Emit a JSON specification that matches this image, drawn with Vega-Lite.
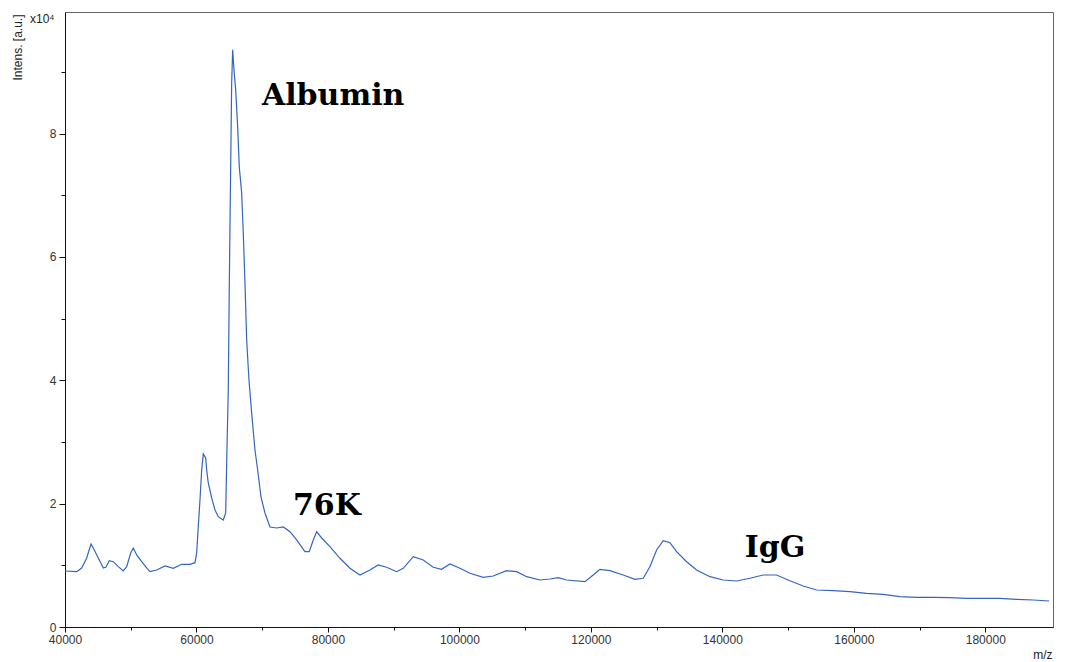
{
  "$schema": "https://vega.github.io/schema/vega-lite/v6.json",
  "width": 988,
  "height": 615,
  "autosize": {"type": "none"},
  "padding": {"left": 65, "top": 12, "right": 12, "bottom": 35},
  "background": "white",
  "title": {
    "text": "x10⁴",
    "anchor": "start",
    "frame": "group",
    "orient": "top",
    "offset": 0,
    "dx": -35,
    "dy": 14,
    "font": "Liberation Sans",
    "fontSize": 12,
    "fontWeight": "normal",
    "color": "#222"
  },
  "config": {
    "view": {"stroke": "#666", "strokeWidth": 1},
    "axis": {
      "domainColor": "#111",
      "tickColor": "#111",
      "labelFont": "Liberation Sans",
      "labelFontSize": 12,
      "labelColor": "#333",
      "titleFont": "Liberation Sans",
      "titleFontSize": 12,
      "titleFontWeight": "normal",
      "titleColor": "#222",
      "grid": false
    }
  },
  "datasets": {
    "spectrum": [
      {"mz": 40000, "intensity": 9080},
      {"mz": 41780, "intensity": 8967},
      {"mz": 42540, "intensity": 9567},
      {"mz": 43300, "intensity": 11188},
      {"mz": 43955, "intensity": 13458},
      {"mz": 44305, "intensity": 12810},
      {"mz": 45065, "intensity": 11188},
      {"mz": 45825, "intensity": 9567},
      {"mz": 46236, "intensity": 9729},
      {"mz": 46738, "intensity": 10750},
      {"mz": 47346, "intensity": 10588},
      {"mz": 48107, "intensity": 9778},
      {"mz": 48867, "intensity": 9080},
      {"mz": 49385, "intensity": 9778},
      {"mz": 49993, "intensity": 12000},
      {"mz": 50388, "intensity": 12810},
      {"mz": 50905, "intensity": 11675},
      {"mz": 51666, "intensity": 10588},
      {"mz": 52427, "intensity": 9567},
      {"mz": 52929, "intensity": 8967},
      {"mz": 53948, "intensity": 9243},
      {"mz": 55210, "intensity": 9891},
      {"mz": 56472, "intensity": 9518},
      {"mz": 57750, "intensity": 10167},
      {"mz": 59013, "intensity": 10167},
      {"mz": 59773, "intensity": 10426},
      {"mz": 60031, "intensity": 12000},
      {"mz": 60275, "intensity": 16264},
      {"mz": 60534, "intensity": 20593},
      {"mz": 60792, "intensity": 25458},
      {"mz": 61035, "intensity": 28052},
      {"mz": 61400, "intensity": 27403},
      {"mz": 61553, "intensity": 25458},
      {"mz": 61796, "intensity": 23350},
      {"mz": 62313, "intensity": 20917},
      {"mz": 62815, "intensity": 18972},
      {"mz": 63317, "intensity": 17885},
      {"mz": 64077, "intensity": 17350},
      {"mz": 64443, "intensity": 18485},
      {"mz": 64595, "intensity": 26593},
      {"mz": 64838, "intensity": 38430},
      {"mz": 64990, "intensity": 55131},
      {"mz": 65203, "intensity": 74589},
      {"mz": 65355, "intensity": 88210},
      {"mz": 65507, "intensity": 93561},
      {"mz": 65705, "intensity": 90318},
      {"mz": 65964, "intensity": 87075},
      {"mz": 66268, "intensity": 81075},
      {"mz": 66511, "intensity": 74589},
      {"mz": 66876, "intensity": 70373},
      {"mz": 67120, "intensity": 63887},
      {"mz": 67378, "intensity": 55780},
      {"mz": 67637, "intensity": 46537},
      {"mz": 67986, "intensity": 40051},
      {"mz": 68397, "intensity": 34700},
      {"mz": 68899, "intensity": 28701},
      {"mz": 69310, "intensity": 25458},
      {"mz": 69812, "intensity": 21080},
      {"mz": 70420, "intensity": 18485},
      {"mz": 71181, "intensity": 16215},
      {"mz": 72200, "intensity": 16053},
      {"mz": 73204, "intensity": 16215},
      {"mz": 74223, "intensity": 15453},
      {"mz": 75242, "intensity": 14107},
      {"mz": 76504, "intensity": 12210},
      {"mz": 77158, "intensity": 12210},
      {"mz": 77767, "intensity": 14107},
      {"mz": 78284, "intensity": 15453},
      {"mz": 79044, "intensity": 14431},
      {"mz": 80307, "intensity": 13021},
      {"mz": 81828, "intensity": 11140},
      {"mz": 83349, "intensity": 9518},
      {"mz": 84870, "intensity": 8432},
      {"mz": 86391, "intensity": 9243},
      {"mz": 87653, "intensity": 10053},
      {"mz": 88930, "intensity": 9680},
      {"mz": 90451, "intensity": 8967},
      {"mz": 91455, "intensity": 9518},
      {"mz": 92976, "intensity": 11399},
      {"mz": 94497, "intensity": 10864},
      {"mz": 96018, "intensity": 9680},
      {"mz": 97296, "intensity": 9356},
      {"mz": 98559, "intensity": 10215},
      {"mz": 100080, "intensity": 9518},
      {"mz": 101601, "intensity": 8707},
      {"mz": 103624, "intensity": 8059},
      {"mz": 105145, "intensity": 8270},
      {"mz": 107183, "intensity": 9129},
      {"mz": 108704, "intensity": 8967},
      {"mz": 110225, "intensity": 8156},
      {"mz": 112248, "intensity": 7621},
      {"mz": 113769, "intensity": 7783},
      {"mz": 115031, "intensity": 7994},
      {"mz": 116309, "intensity": 7621},
      {"mz": 119092, "intensity": 7345},
      {"mz": 120355, "intensity": 8432},
      {"mz": 121374, "intensity": 9356},
      {"mz": 122895, "intensity": 9129},
      {"mz": 124918, "intensity": 8432},
      {"mz": 126697, "intensity": 7735},
      {"mz": 127959, "intensity": 7897},
      {"mz": 128978, "intensity": 9778},
      {"mz": 129997, "intensity": 12486},
      {"mz": 131001, "intensity": 13994},
      {"mz": 132020, "intensity": 13669},
      {"mz": 133039, "intensity": 12210},
      {"mz": 134560, "intensity": 10588},
      {"mz": 136081, "intensity": 9243},
      {"mz": 138104, "intensity": 8156},
      {"mz": 140127, "intensity": 7621},
      {"mz": 142165, "intensity": 7459},
      {"mz": 144189, "intensity": 7897},
      {"mz": 146212, "intensity": 8432},
      {"mz": 148249, "intensity": 8432},
      {"mz": 150272, "intensity": 7508},
      {"mz": 152295, "intensity": 6648},
      {"mz": 154333, "intensity": 6000},
      {"mz": 156858, "intensity": 5886},
      {"mz": 159399, "intensity": 5724},
      {"mz": 161939, "intensity": 5465},
      {"mz": 164464, "intensity": 5302},
      {"mz": 167004, "intensity": 4913},
      {"mz": 169544, "intensity": 4816},
      {"mz": 172069, "intensity": 4816},
      {"mz": 174609, "intensity": 4751},
      {"mz": 177149, "intensity": 4654},
      {"mz": 179674, "intensity": 4654},
      {"mz": 182214, "intensity": 4654},
      {"mz": 184754, "intensity": 4492},
      {"mz": 187278, "intensity": 4378},
      {"mz": 189712, "intensity": 4216}
    ],
    "labels": [
      {"mz": 69960, "intensity": 84650, "label": "Albumin"},
      {"mz": 74680, "intensity": 18160, "label": "76K"},
      {"mz": 143420, "intensity": 11350, "label": "IgG"}
    ]
  },
  "layer": [
    {
      "data": {"name": "spectrum"},
      "mark": {"type": "line", "color": "#3465c4", "strokeWidth": 1.2, "interpolate": "linear"},
      "encoding": {
        "x": {
          "field": "mz",
          "type": "quantitative",
          "scale": {"domain": [40000, 190300], "nice": false, "zero": false},
          "axis": {
            "title": "m/z",
            "titleAnchor": "end",
            "titleAlign": "right",
            "titleBaseline": "alphabetic",
            "titleX": 987,
            "titleY": 31,
            "values": [40000, 50000, 60000, 70000, 80000, 90000, 100000, 110000, 120000, 130000, 140000, 150000, 160000, 170000, 180000],
            "labelExpr": "datum.value % 20000 === 0 ? format(datum.value, 'd') : ''",
            "tickSize": {"condition": {"test": "datum.value % 20000 === 0", "value": 5}, "value": 3},
            "labelPadding": 2,
            "labelFlush": false,
            "labelOverlap": false
          }
        },
        "y": {
          "field": "intensity",
          "type": "quantitative",
          "scale": {"domain": [0, 99700], "nice": false},
          "axis": {
            "title": "Intens. [a.u.]",
            "titleAnchor": "end",
            "titleAngle": 270,
            "titleAlign": "right",
            "titleBaseline": "middle",
            "titleX": -48,
            "titleY": 2,
            "values": [0, 10000, 20000, 30000, 40000, 50000, 60000, 70000, 80000, 90000],
            "labelExpr": "datum.value % 20000 === 0 ? format(datum.value / 10000, 'd') : ''",
            "tickSize": {"condition": {"test": "datum.value % 20000 === 0", "value": 6}, "value": 4},
            "labelPadding": 3,
            "labelFlush": false,
            "labelOverlap": false
          }
        }
      }
    },
    {
      "data": {"name": "labels"},
      "mark": {"type": "text", "font": "DejaVu Serif", "fontWeight": "bold", "fontSize": 30, "align": "left", "baseline": "alphabetic", "color": "#000"},
      "encoding": {
        "x": {"field": "mz", "type": "quantitative"},
        "y": {"field": "intensity", "type": "quantitative"},
        "text": {"field": "label", "type": "nominal"}
      }
    }
  ]
}
